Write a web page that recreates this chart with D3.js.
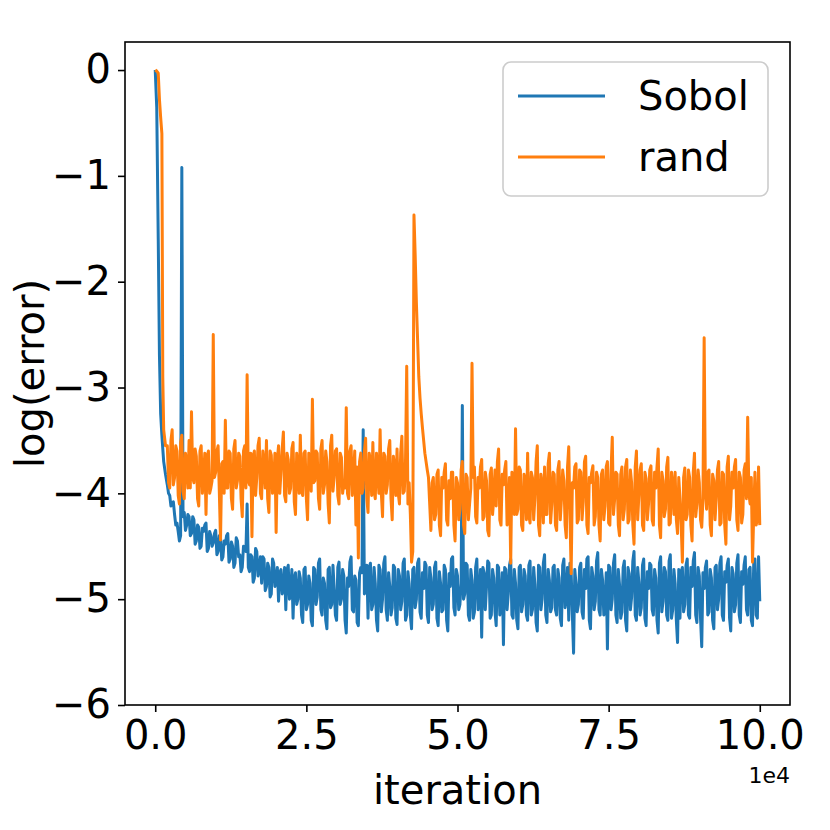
<!DOCTYPE html>
<html>
<head>
<meta charset="utf-8">
<script src="https://cdn.jsdelivr.net/npm/d3@7"></script>
<style>
  body { margin: 0; background: #fff; }
  svg text { font-family: "DejaVu Sans", sans-serif; fill: #000; }
</style>
</head>
<body>
<div id="chart"></div>
<script>
// first iterations (steep drop)
const earlyIter = [0, 250, 500, 700, 900, 1100, 1250, 1400, 1700];
const sobolEarly = [0, -0.35, -1.6, -2.7, -3.25, -3.45, -3.58, -3.7, -3.82];
const randEarly = [0, -0.01, -0.03, -0.28, -0.45, -0.6, -2.9, -3.4, -3.55];

// samples every 400 iterations from 2000, plus the in-between samples (2200, 2600, ...)
const gridIter = d3.range(2000, 100001, 400);
const midIter = d3.range(2200, 100000, 400);

const sobolMain = [
  -3.92, -4.02, -4.10, -4.20, -4.28, -4.45, -0.92, -4.18, -4.30, -4.22,
  -4.38, -4.25, -4.45, -4.32, -4.50, -4.36, -4.28, -4.52, -4.40, -4.47,
  -4.35, -4.55, -4.42, -4.60, -4.48, -4.38, -4.62, -4.50, -4.66, -4.45,
  -4.58, -4.70, -4.52, -4.10, -4.74, -4.60, -4.80, -4.55, -4.72, -4.85,
  -4.62, -4.88, -4.70, -4.95, -4.66, -4.82, -5.02, -4.72, -4.90, -5.10,
  -4.68, -4.95, -5.18, -4.75, -5.00, -4.80, -5.22, -4.70, -5.05, -4.85,
  -5.25, -4.72, -4.98, -4.62, -5.15, -4.85, -5.28, -4.70, -5.05, -4.90,
  -5.20, -4.65, -5.00, -4.78, -5.32, -4.88, -4.60, -5.12, -4.82, -5.25,
  -4.70, -3.40, -4.90, -5.18, -4.66, -5.05, -4.85, -5.30, -4.72, -5.00,
  -4.60, -5.20, -4.88, -5.08, -4.70, -5.24, -4.78, -5.02, -4.62, -5.15,
  -4.85, -5.28, -4.70, -5.00, -4.62, -5.18, -4.90, -4.68, -5.22, -4.80,
  -5.05, -4.65, -5.25, -4.85, -5.10, -4.72, -5.30, -4.88, -4.60, -5.15,
  -4.78, -5.05, -3.17, -4.95, -4.68, -5.20, -4.82, -5.12, -4.62, -5.00,
  -5.36, -4.75, -4.88, -4.66, -5.15, -4.80, -5.25, -4.70, -5.02, -5.43,
  -4.72, -4.95, -4.62, -5.18, -4.85, -5.28, -4.68, -5.05, -4.78, -5.20,
  -4.64, -5.10, -4.86, -5.30, -4.70, -5.00, -4.58, -5.22, -4.82, -5.08,
  -4.68, -5.15, -4.80, -5.25, -4.62, -4.98, -5.20, -4.74, -5.51, -4.85,
  -5.05, -4.66, -5.18, -4.90, -4.60, -5.28, -4.78, -5.02, -4.56, -5.15,
  -4.82, -5.10, -5.47, -4.70, -5.00, -4.58, -5.22, -4.86, -5.12, -4.64,
  -5.30, -4.76, -4.98, -4.55, -5.20, -4.84, -5.08, -4.62, -5.25, -4.90,
  -4.68, -5.15, -4.80, -5.32, -4.60, -5.02, -4.74, -5.20, -4.58, -5.10,
  -4.85, -5.41, -5.18, -4.70, -5.05, -4.62, -5.18, -4.88, -4.56, -5.22,
  -4.78, -5.45, -4.90, -4.64, -5.12, -4.80, -5.28, -4.68, -5.00, -4.60,
  -5.20, -4.84, -4.62, -5.30, -4.76, -5.05, -4.58, -5.22, -4.86, -4.60,
  -5.15, -4.70, -5.25, -4.62, -5.18, -5.02
];

const sobolMid = [
  -4.00, -4.12, -4.08, -4.30, -4.36, -4.40, -4.22, -4.35, -4.20, -4.40,
  -4.22, -4.48, -4.30, -4.52, -4.33, -4.30, -4.55, -4.36, -4.50, -4.38,
  -4.58, -4.40, -4.63, -4.45, -4.40, -4.65, -4.46, -4.70, -4.42, -4.60,
  -4.74, -4.50, -4.55, -4.70, -4.58, -4.84, -4.52, -4.78, -4.60, -4.60,
  -4.92, -4.66, -4.98, -4.62, -4.88, -4.70, -4.75, -4.95, -4.70, -4.72,
  -5.00, -4.72, -4.80, -5.05, -4.74, -5.15, -4.72, -5.10, -4.78, -5.20,
  -4.70, -5.05, -4.66, -5.10, -4.80, -5.20, -4.72, -5.08, -4.68, -5.15,
  -4.70, -5.05, -4.72, -5.20, -4.80, -4.65, -5.10, -4.78, -5.22, -4.75,
  -4.75, -4.95, -4.68, -4.70, -5.10, -4.70, -5.20, -4.68, -5.12, -4.66,
  -5.10, -4.75, -5.15, -4.68, -5.18, -4.72, -5.10, -4.66, -5.20, -4.74,
  -5.15, -4.72, -5.08, -4.66, -5.12, -4.75, -4.65, -5.15, -4.70, -5.10,
  -4.70, -5.18, -4.74, -5.12, -4.68, -5.20, -4.76, -4.62, -5.08, -4.72,
  -5.10, -4.85, -5.00, -4.66, -5.15, -4.72, -5.18, -4.70, -5.10, -4.72,
  -4.70, -5.10, -4.64, -5.18, -4.72, -5.12, -4.68, -5.15, -4.75, -4.70,
  -5.10, -4.68, -5.15, -4.72, -5.20, -4.70, -5.12, -4.72, -5.15, -4.68,
  -5.15, -4.70, -5.22, -4.68, -5.10, -4.66, -5.15, -4.72, -5.12, -4.70,
  -5.10, -4.72, -5.18, -4.68, -5.08, -4.70, -4.66, -5.15, -4.72, -5.12,
  -4.70, -5.12, -4.72, -4.62, -5.20, -4.70, -5.10, -4.64, -5.10, -4.72,
  -5.15, -4.75, -4.68, -5.10, -4.66, -5.15, -4.72, -5.18, -4.70, -5.20,
  -4.70, -5.10, -4.64, -5.15, -4.70, -5.15, -4.68, -5.18, -4.74, -4.66,
  -5.10, -4.72, -5.20, -4.66, -5.12, -4.70, -5.15, -4.64, -5.18, -4.72,
  -5.20, -4.72, -4.74, -5.12, -4.68, -5.15, -4.70, -4.64, -5.15, -4.70,
  -5.18, -4.75, -4.70, -5.15, -4.72, -5.20, -4.70, -5.10, -4.66, -5.15,
  -4.74, -4.68, -5.18, -4.70, -5.12, -4.66, -5.15, -4.74, -4.68, -5.10,
  -4.72, -5.20, -4.66, -5.15, -4.60
];

const randMain = [
  -3.55, -3.95, -3.40, -3.85, -3.60, -4.10, -3.45, -4.05, -3.70, -3.50,
  -3.23, -3.90, -3.65, -4.12, -3.55, -3.85, -4.20, -3.60, -3.95, -2.50,
  -3.80, -3.55, -4.44, -3.70, -3.31, -3.95, -3.62, -4.15, -3.50, -3.88,
  -3.65, -4.22, -3.55, -2.88, -3.92, -4.41, -3.60, -3.85, -3.48, -4.05,
  -3.72, -3.50, -4.18, -3.64, -3.90, -4.37, -3.55, -3.80, -3.42, -4.08,
  -3.68, -3.95, -3.52, -4.20, -3.75, -3.45, -4.02, -3.60, -4.25, -3.70,
  -3.11, -3.88, -3.62, -4.15, -3.50, -3.92, -3.70, -4.28, -3.45, -3.85,
  -3.58, -4.10, -3.66, -3.90, -3.19, -4.05, -3.55, -3.82, -4.30, -4.61,
  -3.62, -3.95, -3.48, -4.18, -3.70, -3.52, -4.05, -3.80, -3.40, -4.22,
  -3.65, -3.92, -3.50, -4.25, -3.75, -3.58, -4.10, -3.46, -3.98, -2.80,
  -3.90, -4.65, -1.37, -2.20, -2.90, -3.25, -3.50, -3.70, -3.85, -4.35,
  -3.85, -4.20, -3.78, -4.40, -3.95, -3.72, -4.30, -4.05, -3.80, -4.45,
  -3.90, -4.15, -3.70, -4.38, -3.85, -4.10, -2.77, -3.75, -4.28, -3.95,
  -3.68, -4.22, -3.88, -4.40, -3.76, -4.05, -4.12, -3.58, -4.30, -3.92,
  -3.70, -4.25, -4.66, -3.85, -3.39, -4.15, -3.78, -4.35, -3.90, -3.62,
  -4.28, -3.85, -4.05, -3.55, -4.40, -3.92, -3.75, -4.20, -3.62, -4.10,
  -3.82, -4.35, -3.70, -4.05, -3.88, -4.42, -3.56, -4.76, -3.95, -3.72,
  -4.25, -3.80, -4.08, -3.65, -4.38, -3.90, -3.74, -4.22, -3.85, -4.45,
  -3.78, -4.12, -3.70, -4.30, -3.47, -4.05, -3.82, -4.40, -3.75, -4.15,
  -3.68, -4.25, -3.90, -4.48, -3.60, -4.02, -3.72, -4.35, -3.86, -4.10,
  -3.74, -4.30, -3.95, -3.58, -4.42, -3.88, -4.15, -3.66, -4.28, -3.92,
  -3.80, -4.38, -4.05, -4.65, -3.76, -4.20, -3.85, -4.45, -3.62, -4.10,
  -3.90, -4.32, -2.53, -4.15, -3.78, -4.40, -3.88, -4.05, -3.70, -4.28,
  -3.82, -4.48, -3.65, -4.12, -3.95, -3.68, -4.35, -3.85, -4.20, -3.72,
  -3.28, -4.10, -4.65, -3.80, -4.25, -4.30
];

const randMid = [
  -3.90, -3.50, -3.92, -3.55, -4.02, -3.52, -3.98, -3.62, -3.95, -3.95,
  -3.85, -3.58, -4.05, -3.60, -4.00, -3.62, -3.65, -4.00, -3.88, -3.85,
  -3.60, -3.98, -3.72, -4.00, -3.95, -3.60, -4.05, -3.58, -3.95, -3.62,
  -4.05, -3.60, -3.95, -3.88, -3.62, -3.65, -4.02, -3.55, -4.00, -3.60,
  -3.95, -4.05, -3.60, -4.00, -3.62, -3.68, -4.00, -3.58, -4.02, -3.62,
  -4.00, -3.58, -4.08, -3.62, -4.00, -3.98, -3.62, -4.05, -3.62, -3.98,
  -3.90, -3.60, -4.05, -3.58, -4.00, -3.60, -4.10, -3.55, -3.98, -3.60,
  -4.02, -3.62, -4.00, -3.95, -4.00, -3.60, -4.02, -3.60, -3.75, -3.70,
  -4.00, -3.60, -4.05, -3.62, -4.02, -3.98, -3.62, -4.00, -4.00, -3.62,
  -4.00, -3.58, -4.05, -3.65, -4.02, -4.00, -3.62, -4.00, -3.70, -4.10,
  -4.20, -4.55, -1.75, -2.55, -3.10, -3.38, -3.62, -3.78, -4.10, -3.90,
  -4.25, -3.82, -4.30, -3.85, -3.80, -4.25, -3.88, -3.80, -4.30, -3.85,
  -4.25, -3.78, -4.30, -3.82, -4.25, -3.95, -3.85, -4.22, -3.85, -3.75,
  -4.25, -3.80, -4.35, -3.82, -4.20, -3.78, -3.70, -4.25, -3.82, -3.78,
  -4.30, -3.85, -3.80, -4.20, -4.20, -3.75, -4.30, -3.82, -4.25, -4.20,
  -3.80, -4.25, -3.70, -4.30, -3.82, -4.28, -4.20, -3.72, -4.28, -3.80,
  -4.30, -3.78, -4.25, -3.78, -4.30, -3.75, -4.20, -3.90, -3.75, -4.28,
  -3.78, -4.25, -3.70, -4.30, -3.85, -3.80, -4.30, -3.80, -4.30, -3.82,
  -4.25, -3.75, -4.28, -3.78, -4.20, -3.80, -4.30, -3.82, -4.25, -3.75,
  -4.28, -3.78, -4.30, -3.75, -4.25, -3.78, -4.30, -3.80, -4.25, -3.78,
  -4.25, -3.80, -3.75, -4.30, -3.80, -4.22, -3.75, -4.30, -3.80, -4.20,
  -4.25, -3.85, -4.30, -3.85, -4.25, -3.78, -4.30, -3.80, -4.22, -3.78,
  -4.25, -4.05, -3.95, -3.80, -4.30, -3.82, -4.25, -3.78, -4.30, -3.80,
  -4.30, -3.75, -4.25, -3.80, -3.75, -4.25, -3.80, -4.28, -3.78, -4.05,
  -4.00, -3.85, -4.20, -4.30, -3.75
];

const seriesNames = ["Sobol", "rand"];
const seriesColors = ["#1f77b4", "#ff7f0e"];
const xTicks = [0, 25000, 50000, 75000, 100000];
const yTicks = [0, -1, -2, -3, -4, -5, -6];

function buildSeries(early, main, mid) {
  const pts = earlyIter.map((it, i) => [it, early[i]]);
  gridIter.forEach((it, i) => {
    pts.push([it, main[i]]);
    if (i < midIter.length) pts.push([midIter[i], mid[i]]);
  });
  return pts;
}

const series = [
  buildSeries(sobolEarly, sobolMain, sobolMid),
  buildSeries(randEarly, randMain, randMid)
];

const width = 830, height = 830;
const margin = { left: 125, right: 40, top: 42, bottom: 125 };

const svg = d3.select("#chart").append("svg")
  .attr("width", width)
  .attr("height", height);

const x = d3.scaleLinear()
  .domain([-5000, 105000])
  .range([margin.left, width - margin.right]);

const y = d3.scaleLinear()
  .domain([-6, 0.265])
  .range([height - margin.bottom, margin.top]);

const line = d3.line()
  .x(d => x(d[0]))
  .y(d => y(d[1]));

svg.append("g")
  .selectAll("path")
  .data(series)
  .join("path")
  .attr("d", line)
  .attr("fill", "none")
  .attr("stroke", (d, i) => seriesColors[i])
  .attr("stroke-width", 3)
  .attr("stroke-linejoin", "round");

// axes
const xAxis = svg.append("g")
  .attr("transform", `translate(0,${height - margin.bottom})`)
  .call(d3.axisBottom(x).tickValues(xTicks).tickFormat(d => (d / 1e4).toFixed(1)).tickSizeOuter(0).tickSize(7).tickPadding(7));

const yAxis = svg.append("g")
  .attr("transform", `translate(${margin.left},0)`)
  .call(d3.axisLeft(y).tickValues(yTicks).tickFormat(d3.format("d")).tickSizeOuter(0).tickSize(7).tickPadding(7));

[xAxis, yAxis].forEach(g => {
  g.select(".domain").remove();
  g.selectAll("line").attr("stroke", "#000").attr("stroke-width", 1.6);
  g.selectAll("text").attr("font-size", 40).attr("font-family", "DejaVu Sans");
});
xAxis.selectAll("text").attr("dy", "0.75em");

// frame
svg.append("rect")
  .attr("x", margin.left)
  .attr("y", margin.top)
  .attr("width", width - margin.left - margin.right)
  .attr("height", height - margin.top - margin.bottom)
  .attr("fill", "none")
  .attr("stroke", "#000")
  .attr("stroke-width", 1.6);

svg.append("text")
  .attr("x", (margin.left + width - margin.right) / 2)
  .attr("y", 804)
  .attr("text-anchor", "middle")
  .attr("font-size", 40)
  .text("iteration");

svg.append("text")
  .attr("x", width - margin.right)
  .attr("y", 783)
  .attr("text-anchor", "end")
  .attr("font-size", 22)
  .text("1e4");

svg.append("text")
  .attr("transform", `translate(44,${(margin.top + height - margin.bottom) / 2}) rotate(-90)`)
  .attr("text-anchor", "middle")
  .attr("font-size", 40)
  .text("log(error)");

// legend
const legend = svg.append("g");
legend.append("rect")
  .attr("x", 503).attr("y", 62)
  .attr("width", 265).attr("height", 134)
  .attr("rx", 8)
  .attr("fill", "#fff").attr("fill-opacity", 0.8)
  .attr("stroke", "#cccccc").attr("stroke-width", 1.6);

seriesNames.forEach((name, i) => {
  const cy = 96 + i * 61;
  legend.append("line")
    .attr("x1", 518).attr("x2", 605)
    .attr("y1", cy).attr("y2", cy)
    .attr("stroke", seriesColors[i]).attr("stroke-width", 3);
  legend.append("text")
    .attr("x", 638).attr("y", cy + 14)
    .attr("font-size", 40)
    .text(name);
});
</script>
</body>
</html>
